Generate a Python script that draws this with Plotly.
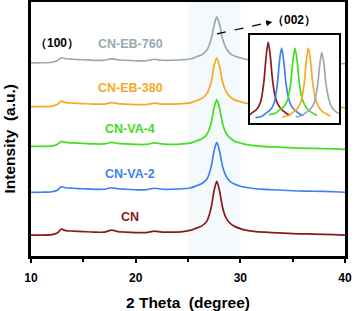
import plotly.graph_objects as go

# ---- data (intensities in arbitrary units) ----
two_theta = [10, 11, 12, 12.5, 12.9, 13.3, 14, 15, 16, 17, 17.7, 18.3, 19, 20, 21, 21.8, 22.5, 23.5,
             24.5, 25.3, 25.8, 26.3, 26.8, 27.2, 27.5, 27.75, 28.0, 28.3, 28.6, 29.0, 29.5, 30.0,
             30.5, 31.5, 33, 35, 37, 39, 40]

cn       = [0, 0, 0.5, 2, 6, 4.5, 4, 3.5, 3, 3, 5, 3.5, 3, 2.5, 2.5, 4, 3, 3,
            3.5, 5, 7, 9, 14, 27, 45, 54, 45, 28, 18, 12, 8.5, 6.5,
            5, 3.5, 2.5, 1.5, 1, 0.5, 0]
cn_va_2  = [0, 0, 0.5, 2, 5.5, 4.5, 4, 3.5, 3, 3, 4.5, 3.5, 3, 2.5, 2.5, 4, 3, 3,
            3.5, 4.5, 6.5, 8.5, 13, 25, 42, 50, 42, 26, 17, 11, 8, 6,
            5, 3.5, 2.5, 1.5, 1, 0.5, 0]
cn_va_4  = [3, 3, 3.5, 5, 8, 7, 6.5, 6, 5.5, 5.5, 7, 6, 5.5, 5, 5, 6.5, 5.5, 5,
            5.5, 6.5, 8.5, 10.5, 15, 26, 42, 50, 42, 26, 17, 11.5, 8, 6.5,
            5, 3.5, 2.5, 1.5, 1, 0.5, 0]
cn_eb_380 = [1, 1, 1.5, 3, 6.5, 5, 4.5, 4, 3.5, 3.5, 5, 4, 3.5, 3, 3, 4.5, 3.5, 3.5,
             4, 5, 7, 9, 14, 25, 42, 50, 42, 26, 17, 11, 7.5, 6,
             4.5, 3, 2, 1.5, 1, 0.5, 0]
cn_eb_760 = [1, 1, 1.5, 3, 6, 5, 4.5, 4, 3.5, 3.5, 5, 4, 3.5, 3, 3, 4.5, 3.5, 3.5,
             4, 5, 7, 9, 13.5, 24, 39, 47, 40, 25, 16.5, 10.5, 7.5, 6,
             4.5, 3, 2, 1.5, 1, 0.5, 0]

series_names = ["CN", "CN-VA-2", "CN-VA-4", "CN-EB-380", "CN-EB-760"]
series_values = [cn, cn_va_2, cn_va_4, cn_eb_380, cn_eb_760]
stack_offsets = [21, 64, 107, 149, 193]
colors = ["#8B1A1A", "#3F7FF0", "#44DD22", "#F7A825", "#9AA9B1"]

x_ticks = [10, 20, 30, 40]

FONT = "Arial, Liberation Sans, sans-serif"

fig = go.Figure()

# main stacked patterns
for name, vals, off, col in zip(series_names, series_values, stack_offsets, colors):
    fig.add_trace(go.Scatter(x=two_theta, y=[v + off for v in vals], mode="lines",
                             line=dict(color=col, width=1.7, shape="spline", smoothing=0.8),
                             name=name, showlegend=False, xaxis="x", yaxis="y"))

# inset: (002) peaks shifted horizontally
peak_center = 27.75
shift = 1.67
for i, (vals, col) in enumerate(zip(series_values, colors)):
    xs, ys = [], []
    for t, v in zip(two_theta, vals):
        if 24.0 <= t <= 30.5:
            xs.append(t - peak_center + i * shift)
            ys.append(v)
    fig.add_trace(go.Scatter(x=xs, y=ys, mode="lines",
                             line=dict(color=col, width=1.7, shape="spline", smoothing=0.8),
                             showlegend=False, xaxis="x2", yaxis="y2"))

# labels
label_y = [39, 82, 128, 169, 213]
annotations = []
for name, ly, col in zip(series_names, label_y, colors):
    annotations.append(dict(x=19.46, y=ly, xref="x", yref="y", text=f"<b>{name}</b>",
                            showarrow=False, font=dict(family=FONT, size=12.5, color=col)))
annotations.append(dict(x=12.48, y=214, xref="x", yref="y", text="<b>（100）</b>", showarrow=False,
                        font=dict(family=FONT, size=12, color="black")))
annotations.append(dict(x=35.1, y=237, xref="x", yref="y", text="<b>（002）</b>", showarrow=False,
                        font=dict(family=FONT, size=12, color="black")))
# y-axis title placed as rotated text
annotations.append(dict(x=-0.07, y=0.459, xref="paper", yref="paper", text="<b>Intensity  (a.u.)</b>",
                        textangle=-90, showarrow=False, xanchor="center", yanchor="middle",
                        font=dict(family=FONT, size=15.5, color="black")))
# arrow head
annotations.append(dict(x=33.05, y=235, ax=32.3, ay=233.4, xref="x", yref="y", axref="x", ayref="y",
                        text="", showarrow=True, arrowhead=2, arrowsize=1, arrowwidth=1.2,
                        arrowcolor="black"))

shapes = [
    dict(type="rect", xref="x", yref="paper", x0=25, x1=30, y0=0, y1=1,
         fillcolor="#F4F9FC", line=dict(width=0), layer="below"),
    dict(type="line", xref="x", yref="y", x0=27.77, y0=223, x1=32.6, y1=234.2,
         line=dict(color="black", width=1.2, dash="dash")),
]

fig.update_layout(
    width=356, height=311,
    margin=dict(l=31, r=11, t=2, b=55),
    paper_bgcolor="white", plot_bgcolor="white",
    font=dict(family=FONT, color="black"),
    annotations=annotations, shapes=shapes,
    xaxis=dict(range=[10, 40], tickvals=x_ticks, ticktext=[f"<b>{t}</b>" for t in x_ticks],
               ticks="outside", ticklen=4, tickwidth=2, tickcolor="black", ticklabelstandoff=5,
               minor=dict(tickvals=[15, 25, 35], ticks="outside", ticklen=3, tickwidth=2, tickcolor="black"),
               showline=True, linewidth=2.5, linecolor="black", mirror=True,
               showgrid=False, zeroline=False, automargin=False,
               tickfont=dict(family=FONT, size=12, color="black"),
               title=dict(text="<b>2 Theta  (degree)</b>", font=dict(family=FONT, size=15.5), standoff=16)),
    yaxis=dict(range=[0, 255], showticklabels=False, ticks="", showgrid=False, zeroline=False,
               showline=True, linewidth=2.5, linecolor="black", mirror=True, automargin=False),
    xaxis2=dict(domain=[0.697, 0.981], range=[-2.29, 8.83], anchor="y2", showticklabels=False,
                ticks="", showgrid=False, zeroline=False, showline=True, linewidth=2,
                linecolor="black", mirror=True, automargin=False),
    yaxis2=dict(domain=[0.524, 0.87], range=[0, 58.7], anchor="x2", showticklabels=False,
                ticks="", showgrid=False, zeroline=False, showline=True, linewidth=2,
                linecolor="black", mirror=True, automargin=False),
)

fig.write_html("out.html", config={"displayModeBar": False},
               post_script="document.body.style.margin='0';")
